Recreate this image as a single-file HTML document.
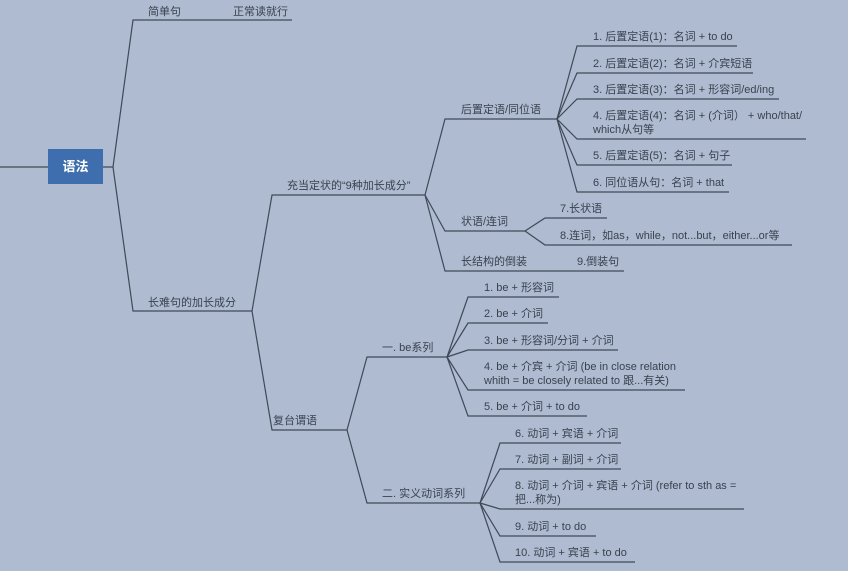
<!DOCTYPE html>
<html><head><meta charset="utf-8"><style>
body{margin:0;background:#aebbd0;}
svg{display:block}
text{font-family:"Liberation Sans","Noto Sans CJK SC",sans-serif;font-size:11px;fill:#39424f;}
</style></head><body>
<svg width="848" height="571" viewBox="0 0 848 571">
<g stroke="#404958" stroke-width="1.2" fill="none">
<path d="M0 167H48M103 167H113"/>
<path d="M113 167L133 20H292"/>
<path d="M113 167L133 311H252"/>
<path d="M252 311L272 195H425"/>
<path d="M252 311L272 430H347"/>
<path d="M425 195L445 119H557"/>
<path d="M557 119L577 46H737"/>
<path d="M557 119L577 73H753"/>
<path d="M557 119L577 99H779"/>
<path d="M557 119L577 139H806"/>
<path d="M557 119L577 165H732"/>
<path d="M557 119L577 192H729"/>
<path d="M425 195L445 231H525"/>
<path d="M525 231L545 218H607"/>
<path d="M525 231L545 245H792"/>
<path d="M425 195L445 271H624"/>
<path d="M347 430L367 357H447"/>
<path d="M447 357L468 297H559"/>
<path d="M447 357L468 323H548"/>
<path d="M447 357L468 350H618"/>
<path d="M447 357L468 390H685"/>
<path d="M447 357L468 416H587"/>
<path d="M347 430L367 503H480"/>
<path d="M480 503L500 443H621"/>
<path d="M480 503L500 469H621"/>
<path d="M480 503L500 509H744"/>
<path d="M480 503L500 536H596"/>
<path d="M480 503L500 562H635"/>
</g>
<rect x="48" y="149" width="55" height="35" fill="#3e6ead"/>
<text x="75.5" y="171" text-anchor="middle" style="fill:#fff;font-weight:bold;font-size:13px">语法</text>
<text x="148" y="15">简单句</text>
<text x="233" y="15">正常读就行</text>
<text x="148" y="306">长难句的加长成分</text>
<text x="287" y="189">充当定状的“9种加长成分”</text>
<text x="273" y="424">复台谓语</text>
<text x="461" y="113">后置定语/同位语</text>
<text x="593" y="40">1. 后置定语(1)：名词 + to do</text>
<text x="593" y="67">2. 后置定语(2)：名词 + 介宾短语</text>
<text x="593" y="93">3. 后置定语(3)：名词 + 形容词/ed/ing</text>
<text x="593" y="119">4. 后置定语(4)：名词 + (介词） + who/that/</text>
<text x="593" y="133">which从句等</text>
<text x="593" y="159">5. 后置定语(5)：名词 + 句子</text>
<text x="593" y="186">6. 同位语从句：名词 + that</text>
<text x="461" y="225">状语/连词</text>
<text x="560" y="212">7.长状语</text>
<text x="560" y="239">8.连词，如as，while，not...but，either...or等</text>
<text x="461" y="265">长结构的倒装</text>
<text x="577" y="265">9.倒装句</text>
<text x="382" y="351">一. be系列</text>
<text x="484" y="291">1. be + 形容词</text>
<text x="484" y="317">2. be + 介词</text>
<text x="484" y="344">3. be + 形容词/分词 + 介词</text>
<text x="484" y="370">4. be + 介宾 + 介词 (be in close relation</text>
<text x="484" y="384">whith = be closely related to 跟...有关)</text>
<text x="484" y="410">5. be + 介词 + to do</text>
<text x="382" y="497">二. 实义动词系列</text>
<text x="515" y="437">6. 动词 + 宾语 + 介词</text>
<text x="515" y="463">7. 动词 + 副词 + 介词</text>
<text x="515" y="489">8. 动词 + 介词 + 宾语 + 介词 (refer to sth as =</text>
<text x="515" y="503">把...称为)</text>
<text x="515" y="530">9. 动词 + to do</text>
<text x="515" y="556">10. 动词 + 宾语 + to do</text>
</svg>
</body></html>
